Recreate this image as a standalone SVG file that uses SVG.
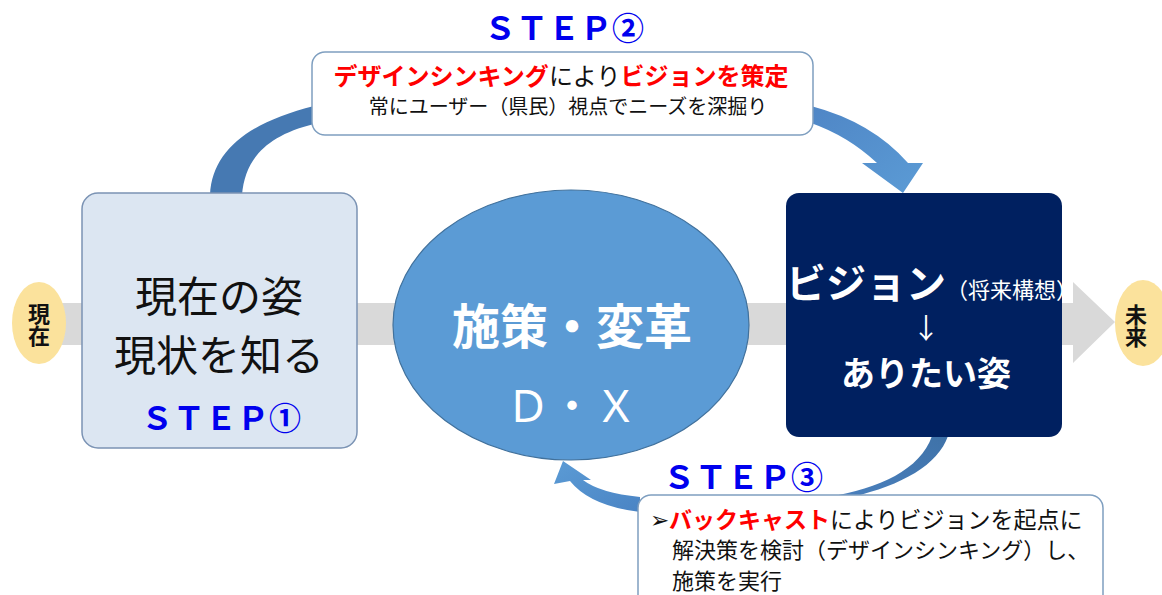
<svg xmlns="http://www.w3.org/2000/svg" width="1162" height="595" viewBox="0 0 1162 595">
<style>
text{font-family:"Noto Sans CJK JP","Noto Sans",sans-serif;}
.step{font-size:32px;font-weight:700;fill:#0000ee;text-anchor:middle;}
.red{fill:#ff0000;font-weight:700;}
.blk{fill:#111;}
.wh{fill:#fff;}
.box{fill:#fff;stroke:#7f9fc0;stroke-width:1.5;}
.vert{writing-mode:vertical-rl;text-anchor:middle;font-size:22px;font-weight:700;fill:#111;}
</style>
<defs>
<linearGradient id="gTR" x1="0" y1="0" x2="1" y2="1">
<stop offset="0" stop-color="#4f86c6"/><stop offset="1" stop-color="#5b9bd5"/>
</linearGradient>
<linearGradient id="gB" x1="1" y1="0" x2="0" y2="1">
<stop offset="0" stop-color="#3f72a8"/><stop offset="1" stop-color="#4a80be"/>
</linearGradient>
<linearGradient id="gBL" x1="1" y1="1" x2="0" y2="0">
<stop offset="0" stop-color="#4a84c4"/><stop offset="1" stop-color="#5b9bd5"/>
</linearGradient>
</defs>

<g id="connectors">
<path id="timeline" d="M55,303 L1073,303 L1073,282 L1115,322 L1073,363 L1073,345 L55,345 Z" fill="#d9d9d9"/>
<path id="arrow-step1-2" d="M210,195 C212,150 250,122 314,106 L314,124 C265,136 245,160 242,195 Z" fill="#4679b2"/>
<path id="arrow-step2-vision" d="M811,106 Q872,122 908,163 L923,163 L903,193 L862,163 L877,163 Q848,136 811,123 Z" fill="url(#gTR)"/>
<path id="arrow-vision-step3" d="M932,436 C920,470 880,488 828,497 L852,497 C902,485 938,465 948,436 Z" fill="url(#gB)"/>
<path id="arrow-step3-dx" d="M640,497 Q600,493 583,480 L591,480 L563,461 L554,484 L570,481 Q590,506 640,512 Z" fill="url(#gBL)"/>
</g>

<g id="node-genzai">
<ellipse cx="39" cy="323" rx="27" ry="41" fill="#fbe29c"/>
<text x="39" y="325" class="vert">現在</text>
</g>

<g id="node-mirai">
<ellipse cx="1143" cy="323" rx="28" ry="43" fill="#fbe29c"/>
<text x="1136" y="326" class="vert">未来</text>
</g>

<g id="node-step1">
<rect x="82" y="193" width="275" height="255" rx="16" fill="#dce6f2" stroke="#7b93b4" stroke-width="1.5"/>
<text x="219" y="312" text-anchor="middle" font-size="42" class="blk">現在の姿</text>
<text x="219" y="371" text-anchor="middle" font-size="42" class="blk">現状を知る</text>
<text x="221" y="430" class="step">ＳＴＥＰ①</text>
</g>

<g id="node-dx">
<ellipse cx="571" cy="325" rx="178" ry="135" fill="#5b9bd5" stroke="#41719c" stroke-width="1.2"/>
<text x="572" y="344" text-anchor="middle" font-size="48" font-weight="700" class="wh">施策・変革</text>
<text x="572" y="422" text-anchor="middle" font-size="44" class="wh">Ｄ・Ｘ</text>
</g>

<g id="node-vision">
<rect x="786" y="193" width="276" height="244" rx="13" fill="#002060"/>
<text x="786" y="298" class="wh"><tspan font-size="40" font-weight="700">ビジョン</tspan><tspan font-size="22">（将来構想）</tspan></text>
<text x="926" y="339" text-anchor="middle" font-size="28" class="wh">↓</text>
<text x="926" y="386" text-anchor="middle" font-size="34" font-weight="700" class="wh">ありたい姿</text>
</g>

<g id="node-step2">
<text x="564" y="40" class="step">ＳＴＥＰ②</text>
<rect x="312" y="52" width="501" height="83" rx="13" class="box"/>
<text x="561" y="85" text-anchor="middle" font-size="24"><tspan class="red">デザインシンキング</tspan><tspan class="blk">により</tspan><tspan class="red">ビジョンを策定</tspan></text>
<text x="568" y="114" text-anchor="middle" font-size="20" class="blk">常にユーザー（県民）視点でニーズを深掘り</text>
</g>

<g id="node-step3">
<text x="743" y="489" class="step">ＳＴＥＰ③</text>
<rect x="638" y="495" width="465" height="120" rx="13" class="box"/>
<text x="650" y="528" font-size="23"><tspan class="blk">➢</tspan><tspan class="red">バックキャスト</tspan><tspan class="blk">によりビジョンを起点に</tspan></text>
<text x="672" y="558" font-size="22" class="blk">解決策を検討（デザインシンキング）し、</text>
<text x="672" y="589" font-size="22" class="blk">施策を実行</text>
</g>
</svg>
